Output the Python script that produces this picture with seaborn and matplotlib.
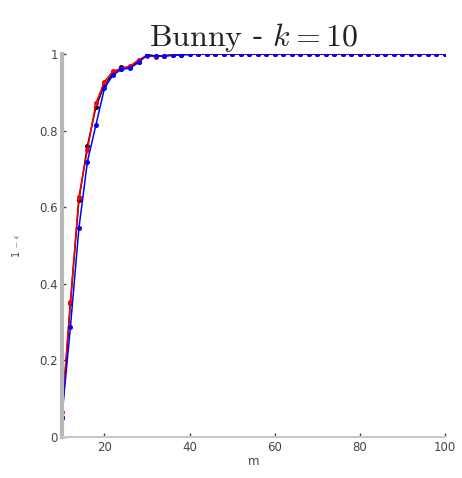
import pandas as pd
import matplotlib
matplotlib.use("Agg")
import matplotlib.pyplot as plt
import seaborn as sns

# sample sizes m = 10, 12, ..., 100
m = [10, 12, 14, 16, 18, 20, 22, 24, 26, 28, 30, 32, 34, 36, 38, 40,
     42, 44, 46, 48, 50, 52, 54, 56, 58, 60, 62, 64, 66, 68, 70,
     72, 74, 76, 78, 80, 82, 84, 86, 88, 90, 92, 94, 96, 98, 100]

black_vals = [0.050, 0.350, 0.620, 0.760, 0.862, 0.920, 0.950, 0.965, 0.965, 0.980,
              0.998, 0.995, 0.995, 0.997, 0.998, 0.999,
              1.0, 1.0, 1.0, 1.0, 1.0, 1.0, 1.0, 1.0, 1.0, 1.0, 1.0, 1.0, 1.0, 1.0, 1.0,
              1.0, 1.0, 1.0, 1.0, 1.0, 1.0, 1.0, 1.0, 1.0, 1.0, 1.0, 1.0, 1.0, 1.0, 1.0]
red_vals = [0.066, 0.353, 0.627, 0.750, 0.872, 0.928, 0.955, 0.962, 0.968, 0.985,
            0.995, 0.993, 0.996, 0.998, 0.999, 1.0,
            1.0, 1.0, 1.0, 1.0, 1.0, 1.0, 1.0, 1.0, 1.0, 1.0, 1.0, 1.0, 1.0, 1.0, 1.0,
            1.0, 1.0, 1.0, 1.0, 1.0, 1.0, 1.0, 1.0, 1.0, 1.0, 1.0, 1.0, 1.0, 1.0, 1.0]
blue_vals = [0.053, 0.287, 0.546, 0.719, 0.815, 0.911, 0.945, 0.960, 0.963, 0.978,
             0.997, 0.995, 0.994, 0.997, 0.998, 0.999,
             1.0, 1.0, 1.0, 1.0, 1.0, 1.0, 1.0, 1.0, 1.0, 1.0, 1.0, 1.0, 1.0, 1.0, 1.0,
             1.0, 1.0, 1.0, 1.0, 1.0, 1.0, 1.0, 1.0, 1.0, 1.0, 1.0, 1.0, 1.0, 1.0, 1.0]

series = ["black", "red", "blue"]

df = pd.concat([
    pd.DataFrame({"m": m, "acc": vals, "series": name})
    for name, vals in zip(series, [black_vals, red_vals, blue_vals])
])

sns.set_style("white")
plt.rcParams["mathtext.fontset"] = "cm"
plt.rcParams["xtick.bottom"] = True
plt.rcParams["ytick.left"] = True

fig = plt.figure(figsize=(4.62, 4.78), dpi=100)
ax = fig.add_axes([0.134, 0.086, 0.829, 0.801])

sns.lineplot(data=df, x="m", y="acc", hue="series", palette={"black": "black", "red": "red", "blue": "blue"},
             marker="o", markersize=3.6, markeredgewidth=0, linewidth=1.1, ax=ax, legend=False)

ax.set_xlim(10, 100)
ax.set_ylim(0, 1)
ax.set_xticks([20, 40, 60, 80, 100])
ax.set_yticks([0, 0.2, 0.4, 0.6, 0.8, 1])
ax.set_yticklabels(["0", "0.2", "0.4", "0.6", "0.8", "1"])
ax.tick_params(direction="in", length=3, width=1, labelsize=8.5, colors="#444444", pad=3)

for side in ["top", "right"]:
    ax.spines[side].set_visible(False)
ax.spines["left"].set_color("#b8b8b8")
ax.spines["left"].set_linewidth(3)
ax.spines["bottom"].set_color("#c8c8c8")
ax.spines["bottom"].set_linewidth(1.5)

ax.set_xlabel("m", fontsize=8.5, labelpad=1, color="#444444")
ax.set_ylabel(r"1 $-$ $\epsilon$", fontsize=7, labelpad=12, color="#444444")
ax.set_title(r"$\mathrm{Bunny}$ - $k = 10$", fontsize=23, pad=6,
             fontfamily="DejaVu Serif", color="#222222")

fig.savefig("out.png", dpi=100)
